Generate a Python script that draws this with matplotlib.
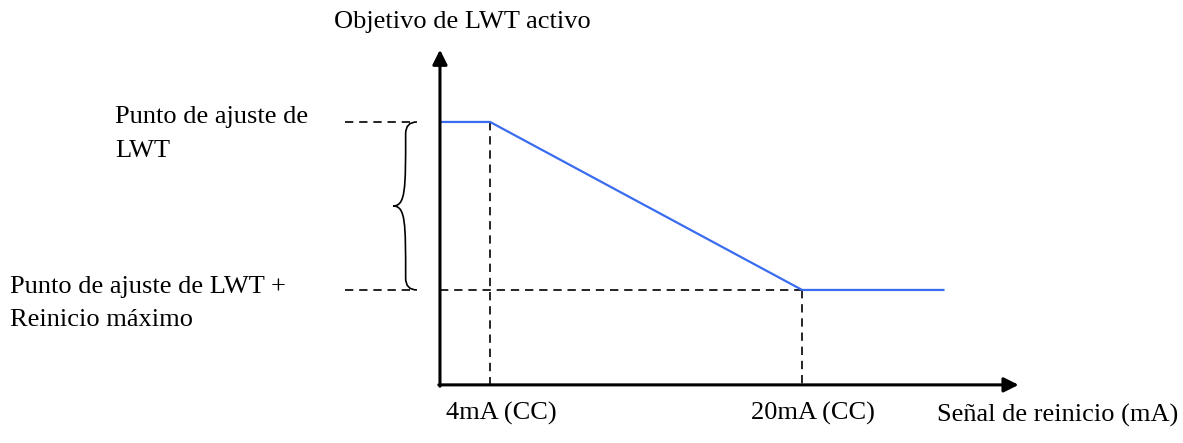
import matplotlib
matplotlib.use("Agg")
from matplotlib import pyplot as plt
from matplotlib.path import Path
from matplotlib.patches import PathPatch

plt.rcParams['font.family'] = ['Liberation Serif', 'DejaVu Serif']

# schematic values: reset signal (mA) and active LWT target (0 = setpoint + max reset, 1 = setpoint)
signal_ma = [1.43, 4, 20, 27.3]
lwt_target = [1.0, 1.0, 0.0, 0.0]
signal_ticks = [4, 20]
tick_labels = ['4mA (CC)', '20mA (CC)']
setpoint_levels = [1.0, 0.0]

# axis extents of the schematic
x_origin, x_tip = 1.43, 31.1
y_origin, y_tip = -0.565, 1.43

fig = plt.figure(figsize=(11.83, 4.43), dpi=100)
ax = fig.add_axes([0, 0, 1, 1])
ax.set_xlim(-21.13, 39.53)
ax.set_ylim(-0.911, 1.726)
ax.axis('off')

FS = 19
dash = dict(color='black', lw=1.2, linestyle=(0, (5, 3.5)))

# main axes with arrowheads
ax.annotate('', xy=(x_origin, y_tip), xytext=(x_origin, y_origin - 0.008),
            arrowprops=dict(arrowstyle='-|>', lw=2.2, color='black', mutation_scale=22,
                            shrinkA=0, shrinkB=0))
ax.annotate('', xy=(x_tip, y_origin), xytext=(x_origin - 0.06, y_origin),
            arrowprops=dict(arrowstyle='-|>', lw=2.2, color='black', mutation_scale=22,
                            shrinkA=0, shrinkB=0))

# dashed guides
ax.plot([signal_ticks[0], signal_ticks[0]], [setpoint_levels[0], y_origin], **dash)
ax.plot([signal_ticks[1], signal_ticks[1]], [setpoint_levels[1], y_origin], **dash)
ax.plot([x_origin, signal_ticks[1]], [setpoint_levels[1], setpoint_levels[1]], **dash)
for lvl in setpoint_levels:
    ax.plot([-3.44, -0.1], [lvl, lvl], **dash)

# reset curve
ax.plot(signal_ma, lwt_target, color='#3a6cf0', lw=1.6, solid_capstyle='butt')

# curly brace
bx0, bx1, bxt = 0.25, -0.33, -0.98
ym = 0.5 * (setpoint_levels[0] + setpoint_levels[1])
verts = [
    (bx0, 1.0), (bx1, 1.0), (bx1, 0.93),
    (bx1, 0.6), (bx1, ym), (bxt, ym),
    (bx1, ym), (bx1, 0.4), (bx1, 0.07),
    (bx1, 0.0), (bx0, 0.0),
]
codes = [Path.MOVETO, Path.CURVE3, Path.CURVE3,
         Path.CURVE4, Path.CURVE4, Path.CURVE4,
         Path.CURVE4, Path.CURVE4, Path.CURVE4,
         Path.CURVE3, Path.CURVE3]
ax.add_patch(PathPatch(Path(verts, codes), fill=False, lw=1.2, color='black'))

# texts (placed in pixel coordinates of the figure)
def txt(px, py, s, ha='left'):
    fig.text(px / 1183, 1 - py / 443, s, ha=ha, va='center', fontsize=FS)

txt(462, 22, 'Objetivo de LWT activo', ha='center')
txt(115, 117, 'Punto de ajuste de')
txt(115, 151, 'LWT')
txt(10, 287, 'Punto de ajuste de LWT +')
txt(10, 320, 'Reinicio máximo')
for t, lab in zip(signal_ticks, tick_labels):
    px = 440 + (t - x_origin) * 19.5 + 11
    txt(px, 413, lab, ha='center')
txt(937, 415, 'Señal de reinicio (mA)')

fig.savefig('out.png', dpi=100)
